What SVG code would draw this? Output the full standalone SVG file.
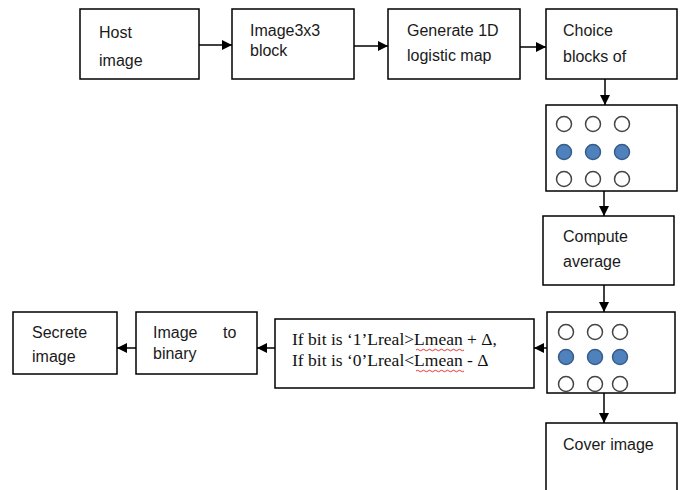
<svg xmlns="http://www.w3.org/2000/svg" width="685" height="490" viewBox="0 0 685 490">
<defs>
<style>
.box{fill:#fff;stroke:#000;stroke-width:1.5}
.t{font-family:"Liberation Sans",Arial,sans-serif;font-size:16px;fill:#1a1a1a}
.s{font-family:"Liberation Serif","Times New Roman",serif;font-size:17.5px;fill:#111}
.c{stroke:#000;stroke-width:1.5;fill:none}
.e{fill:#fff;stroke:#444;stroke-width:1.5}
.f{fill:#4f81bd;stroke:#385d8a;stroke-width:1.5}
.w{fill:none;stroke:#e02020;stroke-width:0.9}
</style>
<marker id="ah" viewBox="0 0 10 10" refX="10" refY="5" markerWidth="10" markerHeight="10" markerUnits="userSpaceOnUse" orient="auto">
<path d="M0,0 L10,5 L0,10 z" fill="#000"/>
</marker>
</defs>
<rect width="685" height="490" fill="#fff"/>
<g id="connectors">
<line class="c" x1="199" y1="45" x2="232" y2="45" marker-end="url(#ah)"/>
<line class="c" x1="354" y1="46" x2="388" y2="46" marker-end="url(#ah)"/>
<line class="c" x1="520" y1="47" x2="546" y2="47" marker-end="url(#ah)"/>
<line class="c" x1="605" y1="79" x2="605" y2="105" marker-end="url(#ah)"/>
<line class="c" x1="604" y1="191" x2="604" y2="216" marker-end="url(#ah)"/>
<line class="c" x1="604" y1="285" x2="604" y2="312" marker-end="url(#ah)"/>
<line class="c" x1="547" y1="348" x2="534" y2="348" marker-end="url(#ah)"/>
<line class="c" x1="275" y1="348" x2="257" y2="348" marker-end="url(#ah)"/>
<line class="c" x1="136" y1="348" x2="117" y2="348" marker-end="url(#ah)"/>
<line class="c" x1="604" y1="393" x2="604" y2="423" marker-end="url(#ah)"/>
</g>
<g id="host">
<rect class="box" x="80" y="9" width="119" height="70"/>
<text class="t" x="99" y="38">Host</text>
<text class="t" x="99" y="66">image</text>
</g>
<g id="block">
<rect class="box" x="232" y="9" width="122" height="70"/>
<text class="t" x="250" y="36">Image3x3</text>
<text class="t" x="250" y="56">block</text>
</g>
<g id="logistic">
<rect class="box" x="388" y="9" width="132" height="70"/>
<text class="t" x="407" y="36">Generate 1D</text>
<text class="t" x="407" y="61">logistic map</text>
</g>
<g id="choice">
<rect class="box" x="546" y="9" width="131" height="70"/>
<text class="t" x="563" y="36">Choice</text>
<text class="t" x="563" y="62">blocks of</text>
</g>
<g id="grid1">
<rect class="box" x="546" y="105" width="131" height="86"/>
<circle class="e" cx="564" cy="124" r="7.5"/><circle class="e" cx="593" cy="124" r="7.5"/><circle class="e" cx="622" cy="124" r="7.5"/>
<circle class="f" cx="564" cy="152" r="7.5"/><circle class="f" cx="593" cy="152" r="7.5"/><circle class="f" cx="622" cy="152" r="7.5"/>
<circle class="e" cx="564" cy="179" r="7.5"/><circle class="e" cx="593" cy="179" r="7.5"/><circle class="e" cx="622" cy="179" r="7.5"/>
</g>
<g id="average">
<rect class="box" x="543" y="216" width="131" height="69"/>
<text class="t" x="563" y="242">Compute</text>
<text class="t" x="563" y="267">average</text>
</g>
<g id="grid2">
<rect class="box" x="547" y="312" width="128" height="81"/>
<circle class="e" cx="566" cy="332" r="7.5"/><circle class="e" cx="595" cy="332" r="7.5"/><circle class="e" cx="620" cy="332" r="7.5"/>
<circle class="f" cx="566" cy="357" r="7.5"/><circle class="f" cx="595" cy="357" r="7.5"/><circle class="f" cx="620" cy="357" r="7.5"/>
<circle class="e" cx="566" cy="384" r="7.5"/><circle class="e" cx="595" cy="384" r="7.5"/><circle class="e" cx="620" cy="384" r="7.5"/>
</g>
<g id="rule">
<rect class="box" x="275" y="319" width="259" height="69"/>
<text class="s" x="292" y="345">If bit is ‘1’Lreal&gt;Lmean + Δ,</text>
<text class="s" x="292" y="366">If bit is ‘0’Lreal&lt;Lmean - Δ</text>
<path class="w" d="M416,350 q1.5,-1.5 3,0 t3,0 t3,0 t3,0 t3,0 t3,0 t3,0 t3,0 t3,0 t3,0 t3,0 t3,0 t3,0 t3,0 t3,0 t3,0"/>
<path class="w" d="M416,371 q1.5,-1.5 3,0 t3,0 t3,0 t3,0 t3,0 t3,0 t3,0 t3,0 t3,0 t3,0 t3,0 t3,0 t3,0 t3,0 t3,0 t3,0"/>
</g>
<g id="binary">
<rect class="box" x="136" y="312" width="121" height="62"/>
<text class="t" x="153" y="338">Image</text>
<text class="t" x="223" y="338">to</text>
<text class="t" x="153" y="359">binary</text>
</g>
<g id="secrete">
<rect class="box" x="13" y="312" width="104" height="62"/>
<text class="t" x="32" y="338">Secrete</text>
<text class="t" x="32" y="362">image</text>
</g>
<g id="cover">
<rect class="box" x="546" y="423" width="131" height="80"/>
<text class="t" x="563" y="450">Cover image</text>
</g>
</svg>
